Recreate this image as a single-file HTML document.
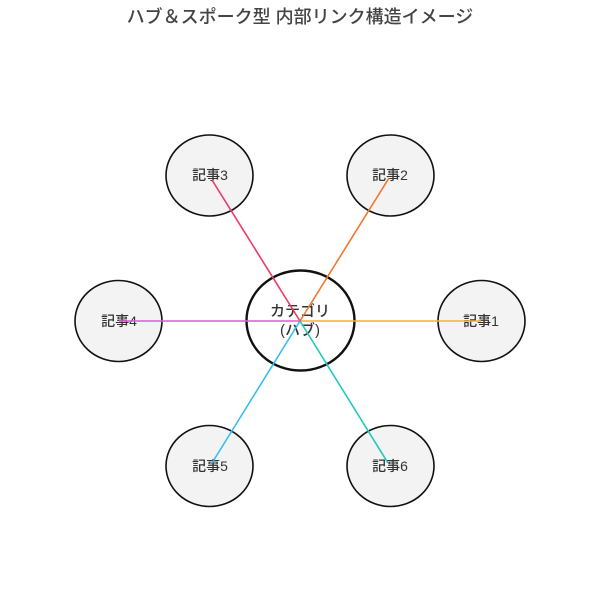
<!DOCTYPE html>
<html><head><meta charset="utf-8"><style>
html,body{margin:0;padding:0;background:#fff;}
</style></head><body>
<svg width="601" height="600" viewBox="0 0 601 600" xmlns="http://www.w3.org/2000/svg" font-family="'Liberation Sans','Noto Sans CJK JP',sans-serif">
<text x="300" y="23" text-anchor="middle" font-size="18" font-weight="500" fill="#444">ハブ＆スポーク型 内部リンク構造イメージ</text>
<g stroke="#111" stroke-width="1.6" fill="#f3f3f3">
<ellipse cx="481.5" cy="321" rx="43.5" ry="40.5"/>
<ellipse cx="390.5" cy="175.5" rx="43.5" ry="40.5"/>
<ellipse cx="209.5" cy="175.5" rx="43.5" ry="40.5"/>
<ellipse cx="118.5" cy="321" rx="43.5" ry="40.5"/>
<ellipse cx="209.5" cy="466" rx="43.5" ry="40.5"/>
<ellipse cx="390.5" cy="466" rx="43.5" ry="40.5"/>
</g>
<ellipse cx="300.5" cy="320.5" rx="54" ry="50" fill="#fff" stroke="#111" stroke-width="2.4"/>
<g font-size="14" fill="#333" text-anchor="middle" font-weight="500">
<text x="300" y="316" font-size="15">カテゴリ</text>
<text x="300" y="335" font-size="15">(ハブ)</text>
<text x="481" y="326">記事1</text>
<text x="390" y="180">記事2</text>
<text x="210" y="180">記事3</text>
<text x="119" y="326">記事4</text>
<text x="210" y="471">記事5</text>
<text x="390" y="471">記事6</text>
</g>
<g stroke-width="1.6" fill="none">
<line x1="300" y1="321" x2="481" y2="321" stroke="#f4b22e"/>
<line x1="300" y1="321" x2="389" y2="178" stroke="#f4762e"/>
<line x1="300" y1="321" x2="212" y2="180" stroke="#ef3a63"/>
<line x1="300" y1="321" x2="119" y2="321" stroke="#e35ac8"/>
<line x1="300" y1="321" x2="212" y2="463" stroke="#35bdf2"/>
<line x1="300" y1="321" x2="388" y2="463" stroke="#1fcbc0"/>
</g>
</svg>
</body></html>
